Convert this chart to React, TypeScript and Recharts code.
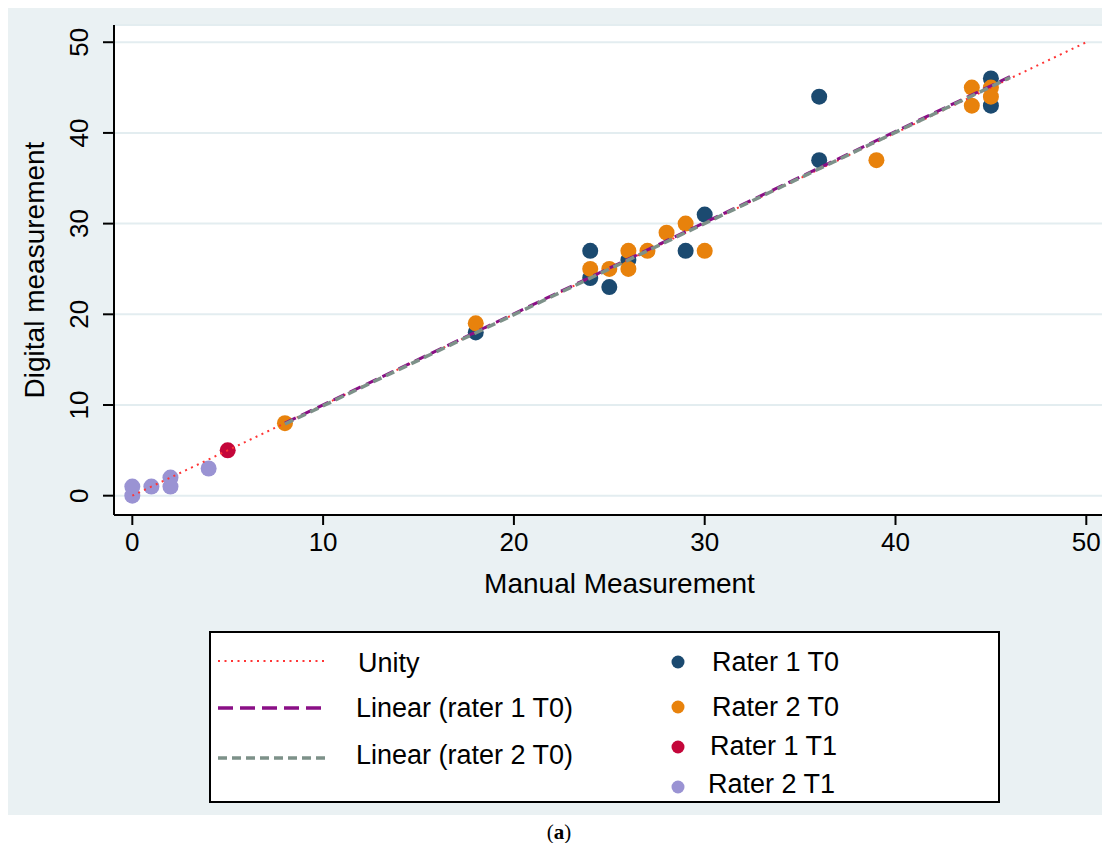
import React from 'react';
import { ScatterChart, Scatter, XAxis, YAxis, CartesianGrid, Label } from 'recharts';

// axis ticks
const manualTicks = [0, 10, 20, 30, 40, 50];
const digitalTicks = [0, 10, 20, 30, 40, 50];

const rater1T0Manual = [18, 24, 24, 25, 26, 29, 30, 36, 36, 45, 45];
const rater1T0Digital = [18, 27, 24, 23, 26, 27, 31, 44, 37, 46, 43];
const rater2T0Manual = [8, 18, 24, 25, 26, 26, 27, 28, 29, 30, 39, 44, 44, 45, 45];
const rater2T0Digital = [8, 19, 25, 25, 27, 25, 27, 29, 30, 27, 37, 45, 43, 45, 44];
const rater1T1Manual = [5];
const rater1T1Digital = [5];
const rater2T1Manual = [0, 0, 1, 2, 2, 4];
const rater2T1Digital = [0, 1, 1, 2, 1, 3];

// reference / fitted lines (end points)
const unityManual = [0, 50];
const unityDigital = [0, 50];
const fit1Manual = [8, 46];
const fit1Digital = [8.0, 46.2];
const fit2Manual = [8, 46];
const fit2Digital = [7.9, 46.1];

const pairs = (xs: number[], ys: number[]) => xs.map((x, i) => ({ manual: x, digital: ys[i] }));

const FONT = '"Liberation Sans", Arial, Helvetica, sans-serif';
const PANEL = '#eaf1f3';
const GRID = '#e3edf0';
const NAVY = '#1b4a70';
const ORANGE = '#e8820c';
const CRIMSON = '#c4063a';
const LAVENDER = '#9a93d3';
const UNITY = '#ff3535';
const PURPLE = '#8a0f86';
const GREYGREEN = '#7d9189';

const marker = (color: string) => (props: any) => (
  <circle cx={props.cx} cy={props.cy} r={8} fill={color} />
);
const noMarker = () => <g />;

const YTick = ({ y, payload }: any) => (
  <text
    x={71}
    y={y}
    transform={`rotate(-90 71 ${y})`}
    textAnchor="middle"
    dominantBaseline="central"
    fontSize={26}
    fontFamily={FONT}
    fill="#000"
  >
    {payload.value}
  </text>
);

const XTitle = ({ viewBox }: any) => (
  <text
    x={viewBox.x + viewBox.width / 2 + 10}
    y={viewBox.y + 68}
    textAnchor="middle"
    dominantBaseline="central"
    fontSize={28}
    fontFamily={FONT}
    fill="#000"
  >
    Manual Measurement
  </text>
);

const YTitle = ({ viewBox }: any) => {
  const cy = viewBox.y + viewBox.height / 2;
  return (
    <text
      x={26}
      y={cy}
      transform={`rotate(-90 26 ${cy})`}
      textAnchor="middle"
      dominantBaseline="central"
      fontSize={28}
      fontFamily={FONT}
      fill="#000"
    >
      Digital measurement
    </text>
  );
};

const LegendBox = () => (
  <div
    style={{
      position: 'absolute',
      left: 201,
      top: 623,
      width: 791,
      height: 172,
      boxSizing: 'border-box',
      border: '2px solid #000',
      background: '#fff',
    }}
  >
    <svg width={787} height={168} style={{ display: 'block' }} fontFamily={FONT} fontSize={27}>
      <line x1={7} x2={116} y1={28} y2={28} stroke={UNITY} strokeWidth={2} strokeDasharray="2 4.5" />
      <line x1={7} x2={116} y1={75} y2={75} stroke={PURPLE} strokeWidth={3.5} strokeDasharray="15 7" />
      <line x1={7} x2={116} y1={125} y2={125} stroke={GREYGREEN} strokeWidth={3.5} strokeDasharray="9 5" />
      <text x={147} y={30} dominantBaseline="central" fill="#000">Unity</text>
      <text x={145} y={75} dominantBaseline="central" fill="#000">Linear (rater 1 T0)</text>
      <text x={145} y={122} dominantBaseline="central" fill="#000">Linear (rater 2 T0)</text>
      <circle cx={467} cy={29} r={6.5} fill={NAVY} />
      <circle cx={467} cy={74} r={6.5} fill={ORANGE} />
      <circle cx={467} cy={114} r={6.5} fill={CRIMSON} />
      <circle cx={467} cy={154} r={6.5} fill={LAVENDER} />
      <text x={501} y={29} dominantBaseline="central" fill="#000">Rater 1 T0</text>
      <text x={501} y={74} dominantBaseline="central" fill="#000">Rater 2 T0</text>
      <text x={499} y={113} dominantBaseline="central" fill="#000">Rater 1 T1</text>
      <text x={497} y={151} dominantBaseline="central" fill="#000">Rater 2 T1</text>
    </svg>
  </div>
);

export default function App() {
  return (
    <div style={{ width: 1102, fontFamily: FONT }}>
      <div style={{ position: 'relative', width: 1102, height: 807, background: PANEL }}>
        <ScatterChart width={1102} height={600} margin={{ top: 17, right: 5, left: 0, bottom: 0 }}>
          <CartesianGrid vertical={false} fill="#fff" fillOpacity={1} stroke={GRID} strokeWidth={2} />
          <XAxis
            type="number"
            dataKey="manual"
            domain={[-0.96, 50.98]}
            ticks={manualTicks}
            allowDataOverflow
            height={93}
            tickSize={10}
            tickMargin={8}
            axisLine={{ stroke: '#000', strokeWidth: 2 }}
            tickLine={{ stroke: '#000', strokeWidth: 2 }}
            tick={{ fontSize: 26, fill: '#000', fontFamily: FONT }}
          >
            <Label content={<XTitle />} />
          </XAxis>
          <YAxis
            type="number"
            dataKey="digital"
            domain={[-2.13, 51.9]}
            ticks={digitalTicks}
            allowDataOverflow
            width={106}
            tickSize={11}
            axisLine={{ stroke: '#000', strokeWidth: 2 }}
            tickLine={{ stroke: '#000', strokeWidth: 2 }}
            tick={<YTick />}
          >
            <Label content={<YTitle />} />
          </YAxis>
          <Scatter name="Rater 1 T0" data={pairs(rater1T0Manual, rater1T0Digital)} fill={NAVY} shape={marker(NAVY)} isAnimationActive={false} />
          <Scatter name="Rater 2 T0" data={pairs(rater2T0Manual, rater2T0Digital)} fill={ORANGE} shape={marker(ORANGE)} isAnimationActive={false} />
          <Scatter name="Rater 1 T1" data={pairs(rater1T1Manual, rater1T1Digital)} fill={CRIMSON} shape={marker(CRIMSON)} isAnimationActive={false} />
          <Scatter name="Rater 2 T1" data={pairs(rater2T1Manual, rater2T1Digital)} fill={LAVENDER} shape={marker(LAVENDER)} isAnimationActive={false} />
          <Scatter
            name="Unity"
            data={pairs(unityManual, unityDigital)}
            fill={UNITY}
            line={{ stroke: UNITY, strokeWidth: 2, strokeDasharray: '2 4.5' }}
            shape={noMarker}
            isAnimationActive={false}
          />
          <Scatter
            name="Linear (rater 1 T0)"
            data={pairs(fit1Manual, fit1Digital)}
            fill={PURPLE}
            line={{ stroke: PURPLE, strokeWidth: 3, strokeDasharray: '12 6' }}
            shape={noMarker}
            isAnimationActive={false}
          />
          <Scatter
            name="Linear (rater 2 T0)"
            data={pairs(fit2Manual, fit2Digital)}
            fill={GREYGREEN}
            line={{ stroke: GREYGREEN, strokeWidth: 3.5, strokeDasharray: '9 5' }}
            shape={noMarker}
            isAnimationActive={false}
          />
        </ScatterChart>
        <LegendBox />
      </div>
      <div
        style={{
          textAlign: 'center',
          marginTop: 6,
          fontFamily: '"Liberation Serif", "DejaVu Serif", serif',
          fontSize: 21,
          lineHeight: '22px',
        }}
      >
        (<b>a</b>)
      </div>
    </div>
  );
}
